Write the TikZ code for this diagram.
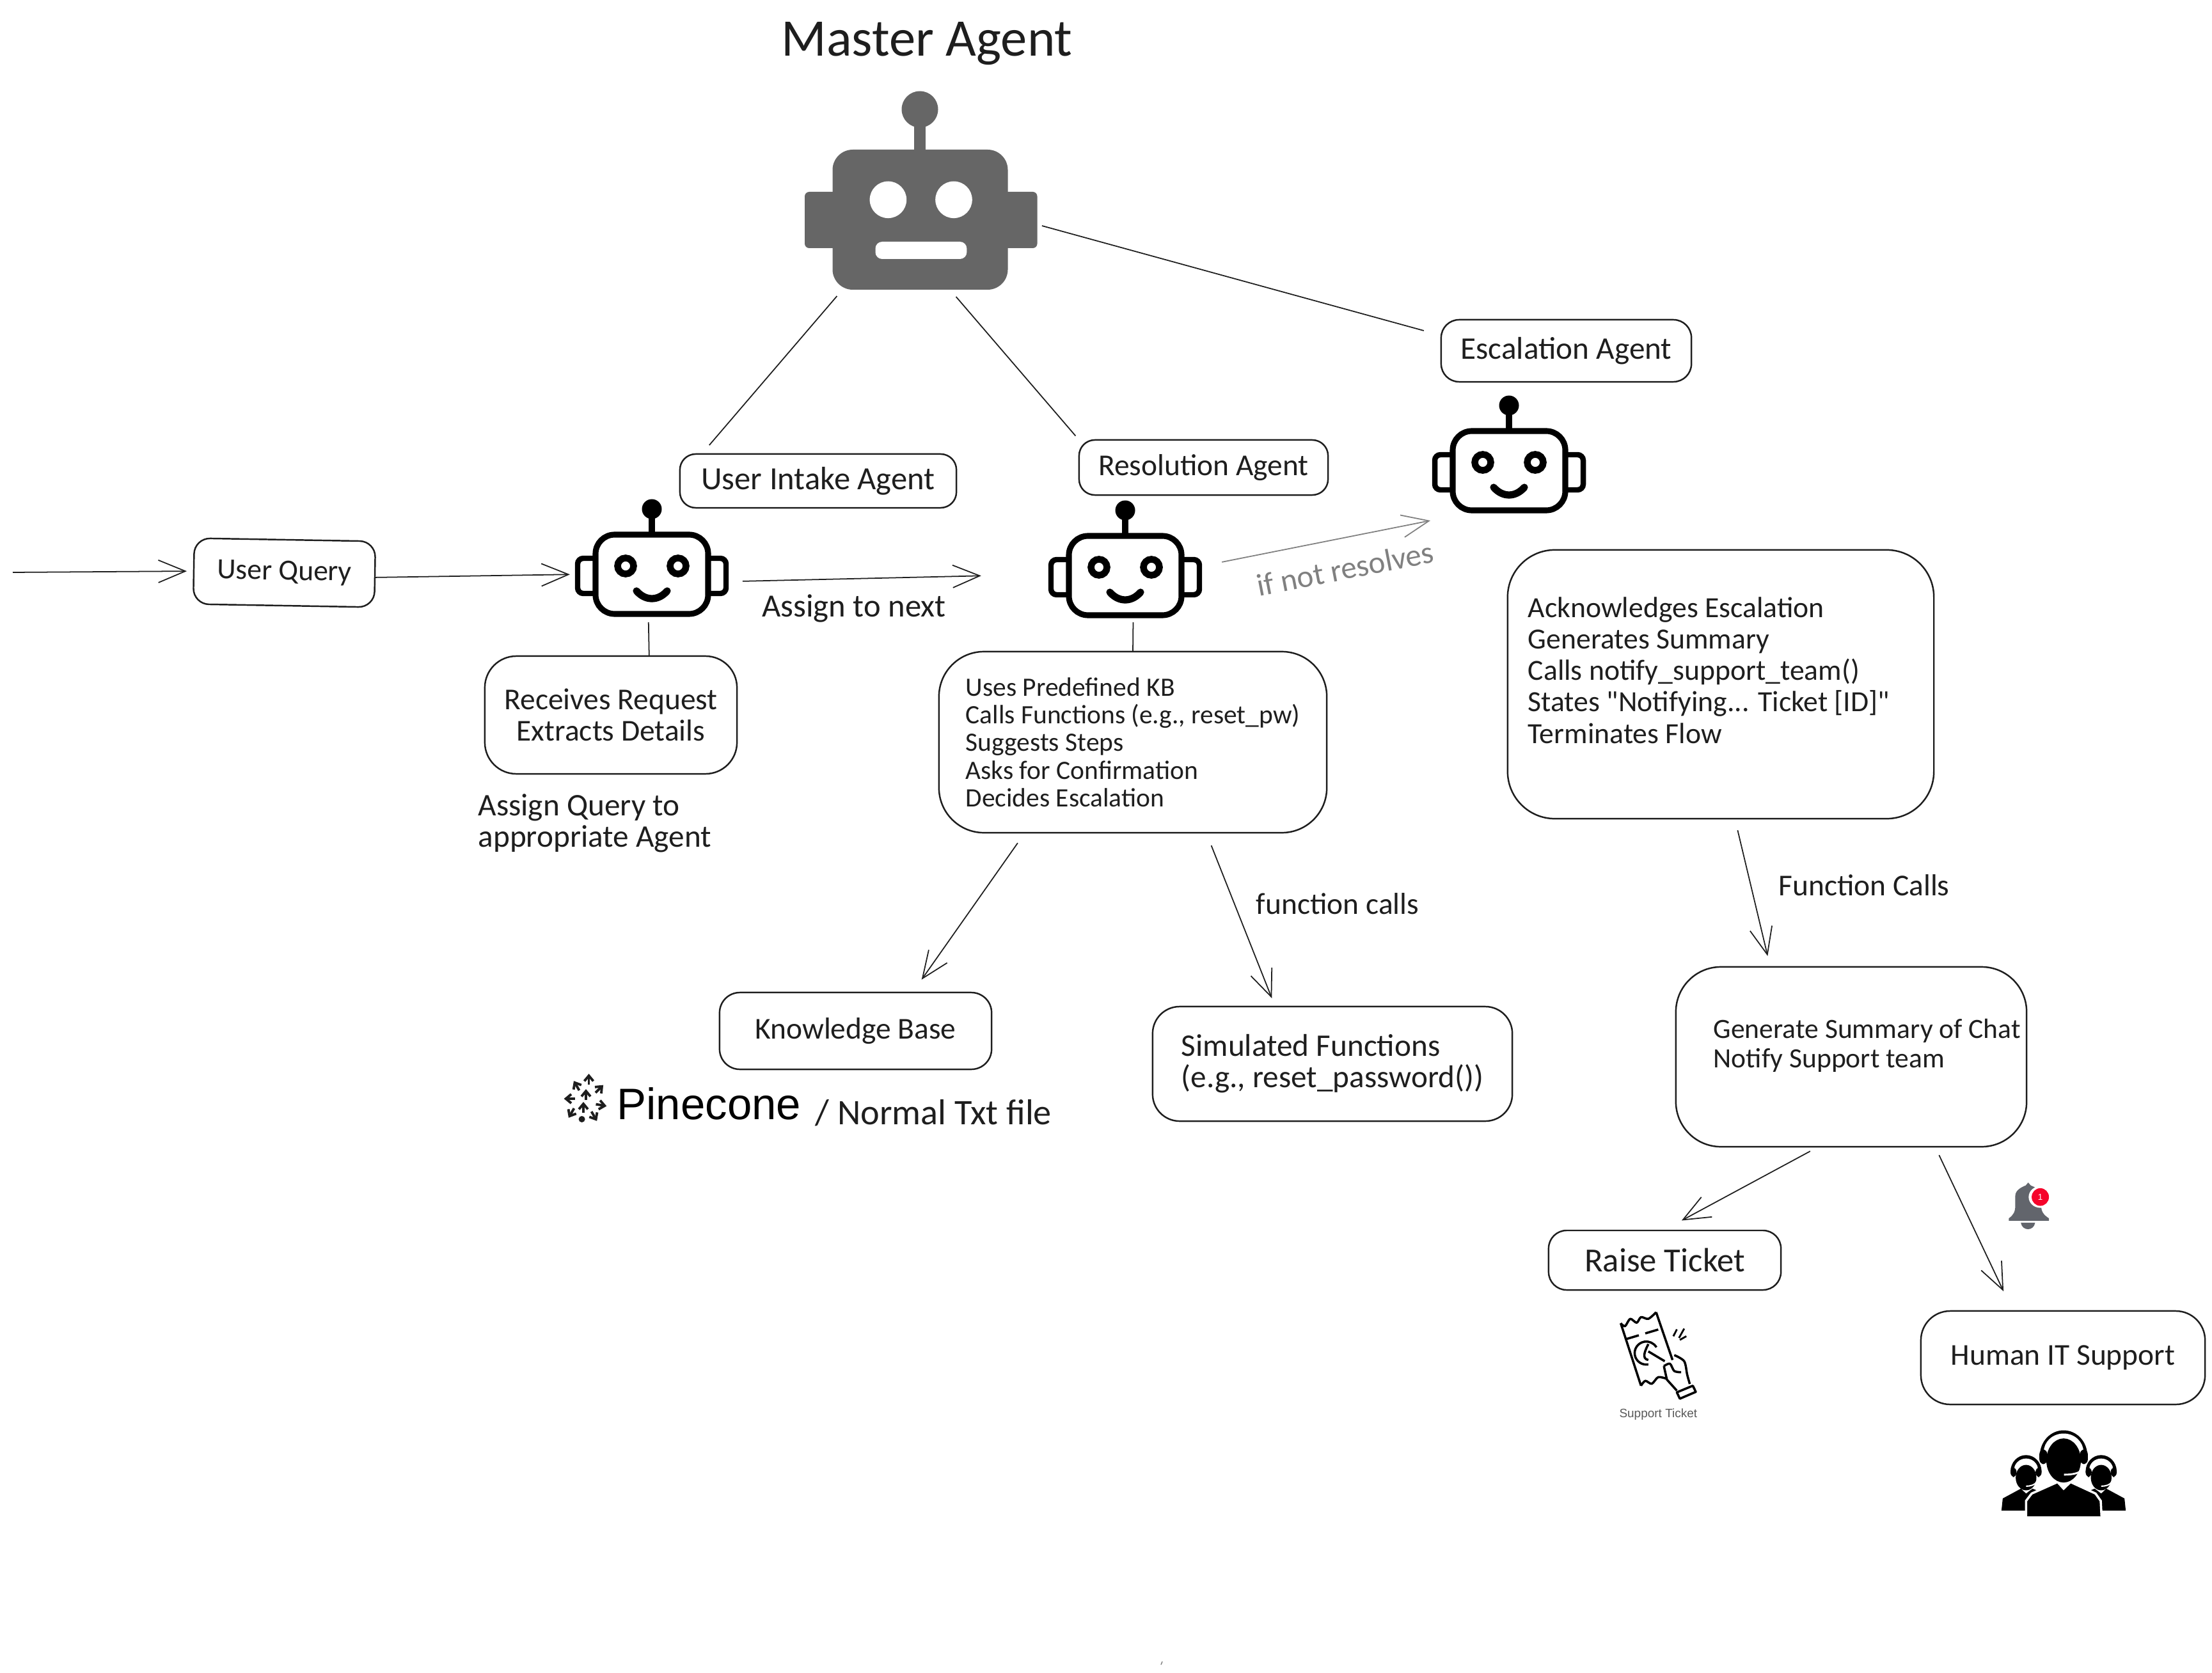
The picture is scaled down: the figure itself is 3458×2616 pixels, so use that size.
\documentclass[tikz,border=0pt]{standalone}
\usepackage{fontspec}
\setmainfont{Carlito}
\setsansfont{Liberation Sans}
\newfontfamily\quotefont{Carlito}
\usepackage{xcolor}
\usepackage{tikz}
\usetikzlibrary{arrows.meta}

\definecolor{inkcol}{HTML}{1E1E1E}
\definecolor{mastercol}{HTML}{666666}
\definecolor{bellcol}{HTML}{62656C}
\definecolor{badgecol}{HTML}{F5042B}

\newcommand{\handsize}[1]{\fontsize{#1}{14}\selectfont}

\tikzset{
	hand/.style={font=\handsize{13.5},text=inkcol,inner sep=0pt},
	box/.style={draw=inkcol,line width=0.7pt,inner sep=0pt,outer sep=0pt,align=center},
	botnode/.style={inner sep=0pt,outer sep=0pt,minimum width=2.41cm,minimum height=1.85cm},
	link/.style={draw=inkcol,line width=0.5pt},
	arrowlink/.style={link,-{Straight Barb[length=12pt,width=10pt]}},
	botface/.pic={
		\draw[line width=2.6pt,rounded corners=8.5pt] (-88,-62) rectangle (88,62);
		\draw[line width=2.4pt,rounded corners=2.5pt] (-88,-25) -- (-116,-25) -- (-116,30) -- (-88,30);
		\draw[line width=2.4pt,rounded corners=2.5pt] (88,-25) -- (116,-25) -- (116,30) -- (88,30);
		\draw[line width=2.8pt] (0,-66) -- (0,-100);
		\fill (0,-102) circle [radius=15.5];
		\foreach \s in {-1,1}
			\draw[line width=3pt] (\s*41,-13) circle [radius=12.5];
		\draw[line width=3.2pt,line cap=round] (-24,26) .. controls (-10,42) and (10,42) .. (24,26);
	},
}

\begin{document}
\begin{tikzpicture}[x=0.01cm,y=-0.01cm]
	\useasboundingbox (0,0) rectangle (3458,2616);

	\node[font=\fontsize{23.5}{28}\selectfont,text=inkcol,inner sep=0pt] (mastertitle) at (1449,68) {Master Agent};

	\node[botnode,minimum width=3.64cm,minimum height=3.15cm] (masterbot) at (1440,295.5) {};
	\fill[mastercol] (1429,190) rectangle (1447,240);
	\fill[mastercol] (1438,171) circle [radius=28.5];
	\fill[mastercol,rounded corners=2pt] (1258,300) rectangle (1621.5,388);
	\fill[mastercol,rounded corners=9pt] (1301.5,234) rectangle (1575.5,453);
	\foreach \x in {1388.4,1491}
		\fill[white] (\x,312.3) circle [radius=28.8];
	\fill[white,rounded corners=3pt] (1368.5,378) rectangle (1511.3,405);

	\node[botnode] (intakebot) at (1018.5,872.5) {};
	\node[botnode] (resolutionbot) at (1758.5,874.5) {};
	\node[botnode] (escalationbot) at (2358.5,710.5) {};
	\pic at (1019,898) {botface};
	\pic at (1759,900) {botface};
	\pic at (2359,736) {botface};

	\node[box,hand,font=\handsize{14.4},rounded corners=7pt,minimum width=4.32cm,minimum height=0.84cm] (intakebox) at (1279,752) {User Intake Agent};
	\node[box,hand,rounded corners=7pt,minimum width=3.89cm,minimum height=0.86cm] (resolutionbox) at (1881.5,731) {Resolution Agent};
	\node[box,hand,font=\handsize{14},rounded corners=8pt,minimum width=3.91cm,minimum height=0.97cm] (escalationbox) at (2448.5,548.5) {Escalation Agent};
	\node[box,hand,font=\handsize{13},rotate=-1,rounded corners=7pt,minimum width=2.83cm,minimum height=1.03cm] (userquery) at (444.5,895.5) {User Query};
	\node[box,hand,rounded corners=14pt,minimum width=3.94cm,minimum height=1.84cm] (receivesbox) at (955,1118) {Receives Request\\Extracts Details};
	\node[box,hand,font=\fontsize{11.8}{12.3}\selectfont,align=left,rounded corners=20pt,minimum width=6.06cm,minimum height=2.83cm] (usesbox) at (1771,1160.5) {Uses Predefined KB\\Calls Functions (e.g., reset\_pw)\\Suggests Steps\\Asks for Confirmation\\Decides Escalation};
	\node[box,rounded corners=21pt,minimum width=6.66cm,minimum height=4.2cm] (ackbox) at (2690,1070) {};
	\node[hand,font=\handsize{13},align=left,anchor=west] (acktext) at (2388,1048) {Acknowledges Escalation\\Generates Summary\\Calls notify\_support\_team()\\States {\quotefont "Notifying... Ticket [ID]"}\\Terminates Flow};
	\node[box,hand,rounded corners=9pt,minimum width=4.25cm,minimum height=1.2cm] (kbbox) at (1337.5,1612) {Knowledge Base};
	\node[box,hand,font=\handsize{14},align=left,rounded corners=12pt,minimum width=5.62cm,minimum height=1.79cm] (simbox) at (2083,1663.5) {Simulated Functions\\(e.g., reset\_password())};
	\node[box,rounded corners=20pt,minimum width=5.48cm,minimum height=2.81cm] (genbox) at (2894,1652.5) {};
	\node[hand,font=\fontsize{12.4}{13}\selectfont,align=left,anchor=west] (gentext) at (2678,1635) {Generate Summary of Chat\\Notify Support team};
	\node[box,hand,font=\handsize{15},rounded corners=8pt,minimum width=3.63cm,minimum height=0.93cm] (raisebox) at (2602.5,1970.5) {Raise Ticket};
	\node[box,hand,rounded corners=13pt,minimum width=4.44cm,minimum height=1.46cm] (humanbox) at (3225,2123) {Human IT Support};

	\node[hand,font=\handsize{14.4}] (assignnext) at (1335,951) {Assign to next};
	\node[hand,font=\handsize{14},align=left,anchor=west] (assignquery) at (747,1287) {Assign Query to\\appropriate Agent};
	\node[hand] (funclower) at (2091,1413) {function calls};
	\node[hand] (funcupper) at (2914,1384) {Function Calls};
	\node[hand,font=\handsize{14},text=gray,rotate=11] (notresolves) at (2103,889) {if not resolves};
	\node[hand,font=\handsize{16},anchor=west] (normaltxt) at (1274,1740) {/ Normal Txt file};
	\node[font=\sffamily\fontsize{19.6}{22}\selectfont,anchor=base west,inner sep=0pt] (pinecone) at (964,1750) {Pinecone};
	\coordinate (querystart) at (20,895);

	\draw[link] (masterbot.-17.8) -- (escalationbox.173.6) [shorten <=2pt,shorten >=8pt];
	\draw[link] (masterbot.-128.1) -- (intakebox.167) [shorten <=3.7pt,shorten >=5.2pt];
	\draw[link] (masterbot.-74.9) -- (resolutionbox.north west) [shorten <=4.1pt,shorten >=2.4pt];
	\draw[arrowlink,shorten >=3.1pt] (querystart) -- (userquery.west);
	\draw[arrowlink,shorten >=2pt] (userquery.-2) -- (intakebot.192.9);
	\draw[arrowlink,shorten <=6.2pt,shorten >=29.6pt] (intakebot.-17) -- (resolutionbot.191.9);
	\draw[arrowlink,draw=gray,shorten <=9pt,shorten >=16pt] (resolutionbot.-5.5) -- (escalationbot.234.7);
	\draw[link,shorten <=2.3pt] (intakebot.-93.4) -- (receivesbox.57.8);
	\draw[link,shorten <=1.7pt] (resolutionbot.-82.3) -- (usesbox.north);
	\draw[arrowlink,shorten <=5.6pt,shorten >=7pt] (usesbox.-140.2) -- (kbbox.34.4);
	\draw[arrowlink,shorten <=6.1pt,shorten >=4pt] (usesbox.-51.9) -- (simbox.135.8);
	\draw[arrowlink,shorten <=5.3pt,shorten >=5pt] (ackbox.-84.3) -- (genbox.132.3);
	\draw[arrowlink,shorten <=4.2pt,shorten >=9.3pt] (genbox.-110.7) -- (raisebox.93);
	\draw[arrowlink,shorten <=4.1pt,shorten >=9.7pt] (genbox.-47.4) -- (humanbox.137.3);

	\foreach \px/\py/\ang in {920.5/1688/-90,901.5/1698/-120,936.7/1703/-45,890.6/1718/180,939.4/1728/10,893.4/1740/120,928.6/1745/60,916/1712/-90,912/1732/-90}
		\draw[line width=1.1pt,inkcol,-{Straight Barb[length=2.4pt,width=4pt]}] (\px,\py) ++(\ang+180:8) -- ++(\ang:17);
	\fill[inkcol] (909.6,1750) circle [radius=5];

	\begin{scope}[shift={(2400,1820)},x=0.00675cm,y=-0.00383cm]
		\fill[bellcol] (1097,232) -- (1097,222) .. controls (1108,208) and (1112,195) .. (1112,170) -- (1112,130) .. controls (1112,105) and (1130,92) .. (1136,88) -- (1142,76) -- (1148,88) .. controls (1154,92) and (1172,105) .. (1172,130) -- (1172,170) .. controls (1172,195) and (1178,208) .. (1190,222) -- (1190,232) -- cycle;
		\fill[bellcol] (1125,240) .. controls (1128,275) and (1155,275) .. (1158,240) -- cycle;
		\fill[white] (1170,135) ellipse [x radius=27,y radius=44];
		\fill[badgecol] (1170,135) ellipse [x radius=20,y radius=36];
		\node[font=\sffamily\fontsize{3.8}{4}\selectfont,text=white,inner sep=0pt] (bellcount) at (1170,135) {1};

		\draw[line width=1pt,line join=round] plot[smooth] coordinates {(198,650) (208,662) (220,632) (235,648) (245,625) (262,632) (280,605)};
		\draw[line width=1pt,line join=round] plot[smooth] coordinates {(245,905) (255,885) (270,897) (285,870) (305,877)};
		\draw[line width=1pt] (198,650) -- (245,905);
		\draw[line width=1pt] (280,605) -- (318,800);
		\draw[line width=1pt,dash pattern=on 6pt off 3pt] (210,715) -- (292,672);
		\draw[line width=1pt] (262,818) arc [start angle=80,end angle=330,x radius=27,y radius=47];
		\draw[line width=1pt] (262,735) .. controls (255,760) and (245,795) .. (262,800);
		\draw[line width=1pt] (262,765) -- (300,805);
		\draw[line width=1pt,line join=round] plot[smooth] coordinates {(322,780) (345,805) (352,860) (358,898)};
		\draw[line width=1pt,line join=round] plot[smooth] coordinates {(298,825) (312,815) (322,845) (338,850)};
		\draw[line width=1pt,line join=round] (298,825) -- (305,880) -- (328,925);
		\draw[line width=1pt,line join=round] (328,932) -- (365,905) -- (372,930) -- (335,958) -- cycle;
		\foreach \ax/\ay/\bx/\by in {320/703/328/675,333/710/345/672,335/718/350/703}
			\draw[line width=0.8pt] (\ax,\ay) -- (\bx,\by);
		\node[font=\sffamily\fontsize{5.4}{7}\selectfont,text=black!65,inner sep=0pt] (ticketcaption) at (285,1022) {Support Ticket};

		\foreach \cx/\mx in {1137/1165,1311/1339} {
			\fill (\cx-36,1255) arc [start angle=180,end angle=360,x radius=36,y radius=67] -- cycle;
			\fill[white] (\cx,1250) ellipse [x radius=28,y radius=48];
			\fill (\cx,1280) ellipse [x radius=24,y radius=52];
			\fill[rounded corners=2pt] (\cx-36,1238) rectangle (\cx-22,1278);
			\fill[rounded corners=2pt] (\cx+22,1238) rectangle (\cx+36,1278);
			\draw[white,line width=0.6pt] (\mx-3,1295) .. controls (\mx-6,1310) and (\mx-18,1315) .. (\mx-28,1315);
		}
		\fill (1080,1415) -- (1083,1365) -- (1125,1325) -- (1137,1345) -- (1152,1325) -- (1180,1345) -- (1180,1415) -- cycle;
		\fill (1368,1415) -- (1365,1365) -- (1323,1325) -- (1311,1345) -- (1296,1325) -- (1268,1345) -- (1268,1415) -- cycle;
		\fill[draw=white,line width=1pt] (1137,1443) -- (1137,1375) -- (1150,1345) -- (1210,1298) -- (1224,1325) -- (1240,1298) -- (1298,1345) -- (1310,1375) -- (1312,1443) -- cycle;
		\fill (1169,1190) arc [start angle=180,end angle=360,x radius=55,y radius=103] -- cycle;
		\fill[white] (1224,1175) ellipse [x radius=46,y radius=75];
		\fill (1224,1210) ellipse [x radius=40,y radius=90];
		\fill[rounded corners=2pt] (1168,1165) rectangle (1186,1225);
		\fill[rounded corners=2pt] (1262,1165) rectangle (1280,1225);
		\draw[white,line width=0.8pt] (1268,1245) .. controls (1262,1262) and (1245,1268) .. (1225,1268);
	\end{scope}

	\draw[line width=0.4pt,gray] (1817,2598) -- (1815,2603);
\end{tikzpicture}
\end{document}
